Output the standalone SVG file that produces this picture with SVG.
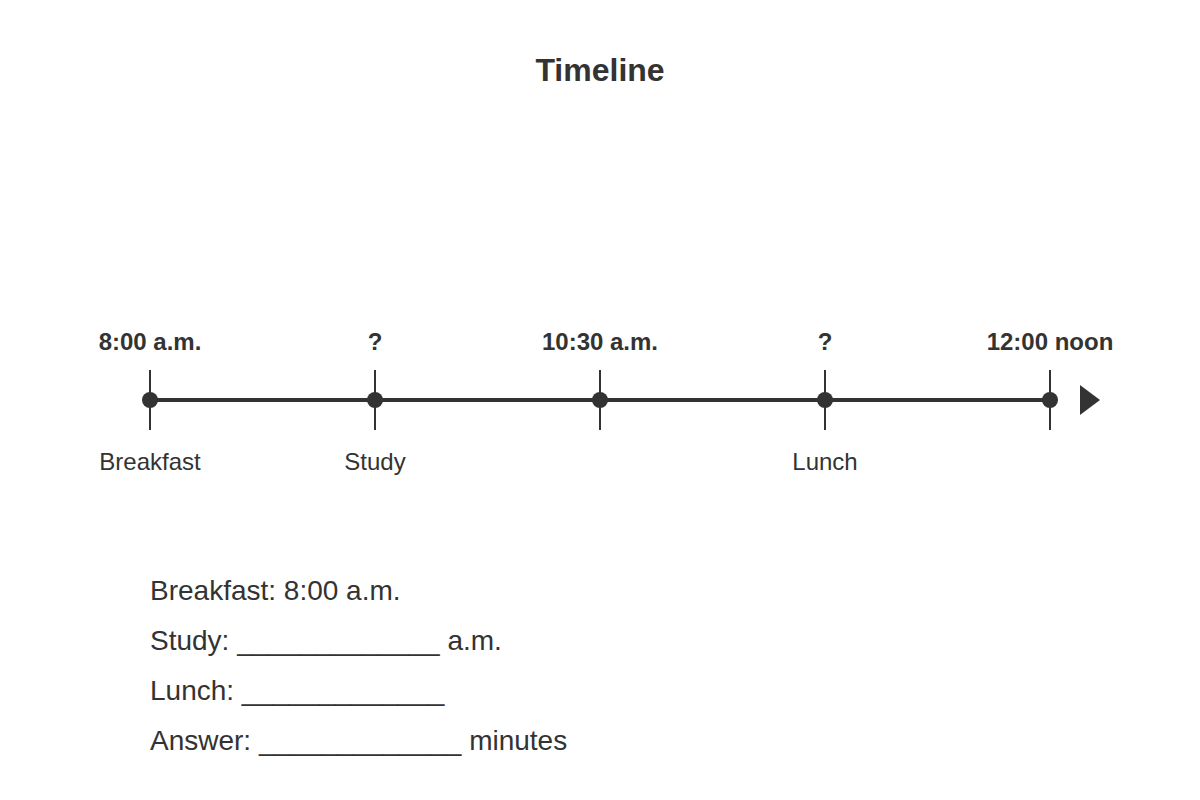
<svg xmlns="http://www.w3.org/2000/svg" width="1200" height="800" viewBox="0 0 1200 800">
<style>
text{font-family:"Liberation Sans",Arial,sans-serif;fill:#333}
.title{font-size:32px;font-weight:bold;text-anchor:middle}
.time{font-size:24px;font-weight:bold;text-anchor:middle}
.lab{font-size:24px;text-anchor:middle}
.ans{font-size:28px}
.tick{stroke:#333;stroke-width:2}
.dot{fill:#333}
</style>
<rect width="1200" height="800" fill="#fff"/>
<text class="title" x="600" y="81">Timeline</text>
<g id="connectors">
<line x1="150" y1="400" x2="1050" y2="400" stroke="#333" stroke-width="4"/>
<polygon points="1080,385 1100,400 1080,415" fill="#333"/>
</g>
<g id="n1"><line class="tick" x1="150" y1="370" x2="150" y2="430"/><circle class="dot" cx="150" cy="400" r="8"/><text class="time" x="150" y="350">8:00 a.m.</text><text class="lab" x="150" y="470">Breakfast</text></g>
<g id="n2"><line class="tick" x1="375" y1="370" x2="375" y2="430"/><circle class="dot" cx="375" cy="400" r="8"/><text class="time" x="375" y="350">?</text><text class="lab" x="375" y="470">Study</text></g>
<g id="n3"><line class="tick" x1="600" y1="370" x2="600" y2="430"/><circle class="dot" cx="600" cy="400" r="8"/><text class="time" x="600" y="350">10:30 a.m.</text></g>
<g id="n4"><line class="tick" x1="825" y1="370" x2="825" y2="430"/><circle class="dot" cx="825" cy="400" r="8"/><text class="time" x="825" y="350">?</text><text class="lab" x="825" y="470">Lunch</text></g>
<g id="n5"><line class="tick" x1="1050" y1="370" x2="1050" y2="430"/><circle class="dot" cx="1050" cy="400" r="8"/><text class="time" x="1050" y="350">12:00 noon</text></g>
<g id="answers">
<text class="ans" x="150" y="600">Breakfast: 8:00 a.m.</text>
<text class="ans" x="150" y="650">Study: _____________ a.m.</text>
<text class="ans" x="150" y="700">Lunch: _____________</text>
<text class="ans" x="150" y="750">Answer: _____________ minutes</text>
</g>
</svg>
